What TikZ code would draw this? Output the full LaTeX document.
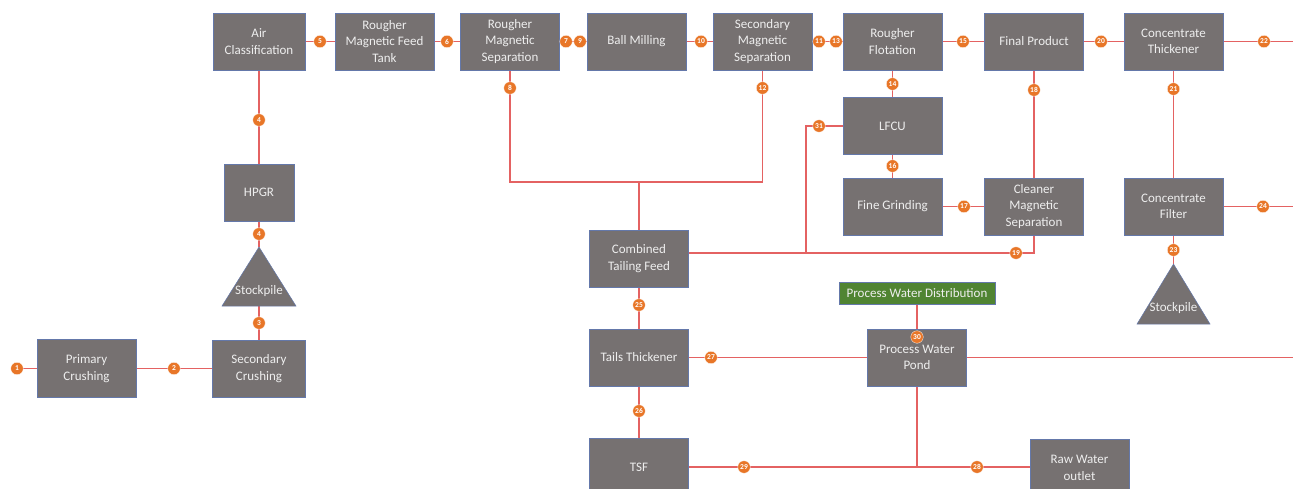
\documentclass[tikz,border=0pt]{standalone}
\usepackage{fontspec}
\setmainfont{Carlito}
\usetikzlibrary{backgrounds}
\definecolor{boxfill}{RGB}{118,113,113}
\definecolor{boxline}{RGB}{100,120,170}
\definecolor{flowred}{RGB}{228,98,98}
\definecolor{markorange}{RGB}{232,118,40}
\definecolor{pwdgreen}{RGB}{80,132,50}
\definecolor{boxtext}{RGB}{238,238,238}
\tikzset{
  box/.style={draw=boxline, line width=0.6pt, fill=boxfill, text=boxtext,
    minimum width=99pt, minimum height=57pt, align=center, inner sep=1pt,
    font=\fontsize{13}{16.5}\selectfont},
  greenbox/.style={draw=boxline, line width=0.5pt, fill=pwdgreen, text=boxtext,
    minimum width=156pt, minimum height=22pt, inner sep=1pt,
    font=\fontsize{13}{16}\selectfont},
  pilefill/.style={fill=boxfill, draw=boxline, line width=0.5pt},
  piletext/.style={text=boxtext, inner sep=0pt, font=\fontsize{13}{16}\selectfont},
  marker/.style={circle, fill=markorange, draw=white, line width=0.3pt,
    minimum size=12.5pt, inner sep=0pt, text=white,
    font=\fontsize{7.5}{8}\selectfont\bfseries},
  flow/.style={draw=flowred, line width=1.3pt},
}
\begin{document}
\begin{tikzpicture}[x=1pt,y=-1pt]
\useasboundingbox (0,0) rectangle (1293,489);
\clip (0,0) rectangle (1293,489);
% boxes
\node[box, minimum width=92pt] (air) at (259,41.5) {Air\\Classification};
\node[box] (rmft) at (384.5,41.5) {Rougher\\Magnetic Feed\\Tank};
\node[box] (rms) at (510,41.5) {Rougher\\Magnetic\\Separation};
\node[box] (ball) at (636.5,41.5) {Ball Milling};
\node[box] (sms) at (762.5,41.5) {Secondary\\Magnetic\\Separation};
\node[box] (rf) at (892.5,41.5) {Rougher\\Flotation};
\node[box] (fp) at (1034,41.5) {Final Product};
\node[box] (ct) at (1173.5,41.5) {Concentrate\\Thickener};
\node[box] (lfcu) at (892.5,126) {LFCU};
\node[box] (fg) at (892.5,206.5) {Fine Grinding};
\node[box] (cms) at (1034,206.5) {Cleaner\\Magnetic\\Separation};
\node[box] (cf) at (1173.5,206.5) {Concentrate\\Filter};
\node[box, minimum width=70pt] (hpgr) at (259,192.5) {HPGR};
\node[box, minimum width=93pt] (sc) at (259,368.5) {Secondary\\Crushing};
\node[box, minimum height=58pt] (pc) at (86.5,368.5) {Primary\\Crushing};
\node[box] (ctf) at (639,258.5) {Combined\\Tailing Feed};
\node[box] (tt) at (639,357.5) {Tails Thickener};
\node[box, minimum height=58pt] (tsf) at (639,467) {TSF};
\node[box] (pwp) at (917,357.5) {Process Water\\Pond};
\node[greenbox] (pwd) at (917,293) {Process Water Distribution};
\node[box, minimum height=58pt] (rwo) at (1079.5,468) {Raw Water\\outlet};
% stockpiles
\coordinate (s1apex) at (259,247);
\coordinate (s1base) at (259,306);
\fill[pilefill] (222,306) -- (s1apex) -- (296,306) -- cycle;
\node[piletext] (stk1) at (259,291) {Stockpile};
\coordinate (s2apex) at (1173.5,264);
\coordinate (s2base) at (1173.5,324);
\fill[pilefill] (1137,324) -- (s2apex) -- (1210,324) -- cycle;
\node[piletext] (stk2) at (1173.5,308) {Stockpile};
% free ends and junctions
\coordinate (right1) at (1293,41.5);
\coordinate (right2) at (1293,206.5);
\coordinate (right3) at (1293,357.5);
\coordinate (jt) at (639,182);
\coordinate (j19) at (1034,253);
\coordinate (j31) at (806,253);
% markers
\node[marker] (m1) at (17,368.5) {1};
\node[marker] (m2) at (174,368.5) {2};
\node[marker] (m3) at (259,323) {3};
\node[marker] (m4a) at (259,234) {4};
\node[marker] (m4b) at (259,120) {4};
\node[marker] (m5) at (320,41.5) {5};
\node[marker] (m6) at (447,41.5) {6};
\node[marker] (m7) at (566,41.5) {7};
\node[marker] (m9) at (580,41.5) {9};
\node[marker] (m10) at (701,41.5) {10};
\node[marker] (m11) at (819,41.5) {11};
\node[marker] (m13) at (836,41.5) {13};
\node[marker] (m15) at (963,41.5) {15};
\node[marker] (m20) at (1101,41.5) {20};
\node[marker] (m22) at (1264,41.5) {22};
\node[marker] (m14) at (892.5,84) {14};
\node[marker] (m16) at (892.5,166) {16};
\node[marker] (m17) at (964,206.5) {17};
\node[marker] (m18) at (1034,90) {18};
\node[marker] (m19) at (1016,253) {19};
\node[marker] (m31) at (819,126) {31};
\node[marker] (m8) at (510,88) {8};
\node[marker] (m12) at (762.5,88) {12};
\node[marker] (m21) at (1173.5,89) {21};
\node[marker] (m23) at (1173.5,250) {23};
\node[marker] (m24) at (1263,206.5) {24};
\node[marker] (m25) at (639,305) {25};
\node[marker] (m26) at (639,411) {26};
\node[marker] (m27) at (711,357.5) {27};
\node[marker] (m30) at (917,337) {30};
\node[marker] (m29) at (744,467) {29};
\node[marker] (m28) at (977,467) {28};
% connectors
\begin{scope}[on background layer]
\draw[flow] (m1) -- (pc.west);
\draw[flow] (pc.east) -- (sc.west);
\draw[flow] (sc.north) -- (s1base);
\draw[flow] (s1apex) -- (hpgr.south);
\draw[flow] (hpgr.north) -- (air.south);
\draw[flow] (air.east) -- (rmft.west);
\draw[flow] (rmft.east) -- (rms.west);
\draw[flow] (rms.east) -- (ball.west);
\draw[flow] (ball.east) -- (sms.west);
\draw[flow] (sms.east) -- (rf.west);
\draw[flow] (rf.east) -- (fp.west);
\draw[flow] (fp.east) -- (ct.west);
\draw[flow] (ct.east) -- (right1);
\draw[flow] (rf.south) -- (lfcu.north);
\draw[flow] (lfcu.south) -- (fg.north);
\draw[flow] (fg.east) -- (cms.west);
\draw[flow] (cms.north) -- (fp.south);
\draw[flow] (ct.south) -- (cf.north);
\draw[flow] (cf.east) -- (right2);
\draw[flow] (cf.south) -- (s2apex);
\draw[flow] (cms.south) -- (j19) -- (ctf.east |- j19);
\draw[flow] (lfcu.west) -| (j31);
\draw[flow] (rms.south) |- (jt) -| (sms.south);
\draw[flow] (jt) -- (ctf.north);
\draw[flow] (ctf.south) -- (tt.north);
\draw[flow] (tt.south) -- (tsf.north);
\draw[flow] (tt.east) -- (pwp.west);
\draw[flow] (pwp.east) -- (right3);
\draw[flow] (pwd.south) -- (pwp.north);
\draw[flow] (tsf.east) -- (rwo.west |- tsf.east);
\draw[flow] (pwp.south) -- (pwp.south |- tsf.east);
\end{scope}
\end{tikzpicture}
\end{document}
